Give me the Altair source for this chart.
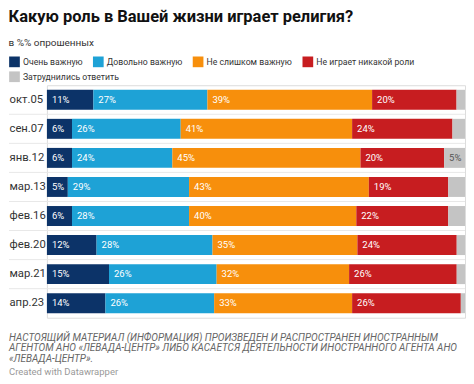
import altair as alt
import pandas as pd

dates = ["окт.05", "сен.07", "янв.12", "мар.13", "фев.16", "фев.20", "мар.21", "апр.23"]
categories = ["Очень важную", "Довольно важную", "Не слишком важную", "Не играет никакой роли", "Затруднились ответить"]
very = [11, 6, 6, 5, 6, 12, 15, 14]
fairly = [27, 26, 24, 29, 28, 28, 26, 26]
not_very = [39, 41, 45, 43, 40, 35, 32, 33]
none_ = [20, 24, 20, 19, 22, 24, 26, 26]
hard = [2, 3, 5, 4, 4, 2, 2, 1]
colors = ["#0c3368", "#1ea2d6", "#f78f0c", "#c71d20", "#c4c4c4"]

footer_lines = [
    "НАСТОЯЩИЙ МАТЕРИАЛ (ИНФОРМАЦИЯ) ПРОИЗВЕДЕН И РАСПРОСТРАНЕН ИНОСТРАННЫМ",
    "АГЕНТОМ АНО «ЛЕВАДА-ЦЕНТР» ЛИБО КАСАЕТСЯ ДЕЯТЕЛЬНОСТИ ИНОСТРАННОГО АГЕНТА АНО",
    "«ЛЕВАДА-ЦЕНТР».",
]

rows = []
for series, cat in zip([very, fairly, not_very, none_, hard], categories):
    for d, v in zip(dates, series):
        rows.append({"date": d, "cat": cat, "value": v, "order": categories.index(cat)})
df = pd.DataFrame(rows)

W, H = 419, 233
FONT = "Roboto"

base = alt.Chart(df).transform_stack(
    stack="value", groupby=["date"], as_=["v0", "v1"], offset="normalize",
    sort=[alt.SortField("order", order="ascending")],
)

yenc = alt.Y("date:N", sort=dates, title=None,
             scale=alt.Scale(paddingInner=0, paddingOuter=0),
             axis=alt.Axis(labelAlign="left", labelPadding=38, ticks=False, domain=False,
                           labelFont=FONT, labelFontSize=11.3, labelColor="#333"))
xenc = alt.X("v0:Q", axis=None, scale=alt.Scale(domain=[0, 1], nice=False, zero=True))


def legend(y):
    return alt.Legend(orient="none", legendX=-38, legendY=y, title=None,
                      direction="horizontal",
                      symbolType="square", symbolSize=115, symbolStrokeWidth=0,
                      symbolOpacity=1,
                      labelFont=FONT, labelFontSize=8.7, labelColor="#333",
                      labelOffset=3, columnPadding=10)


bars_main = base.transform_filter("datum.order < 4").mark_bar(size=20).encode(
    x=xenc, x2="v1:Q", y=yenc,
    color=alt.Color("cat:N", sort=categories[:4],
                    scale=alt.Scale(domain=categories[:4], range=colors[:4]),
                    legend=legend(-29)),
)

bars_hard = base.transform_filter("datum.order == 4").mark_bar(size=20).encode(
    x=xenc, x2="v1:Q", y=yenc,
    color=alt.Color("cat:N",
                    scale=alt.Scale(domain=categories[4:], range=colors[4:]),
                    legend=legend(-14)),
)

labels = base.transform_filter("datum.value >= 5").transform_calculate(
    lab="datum.value + '%'"
).mark_text(align="left", baseline="middle", dx=5, font=FONT, fontSize=9.5).encode(
    x=alt.X("v0:Q"),
    y=alt.Y("date:N", sort=dates),
    text="lab:N",
    color=alt.condition("datum.cat == 'Затруднились ответить'", alt.value("#555"), alt.value("#ffffff")),
)

seps = alt.Chart(pd.DataFrame({"date": dates[1:]})).mark_rule(color="#e8e8e8", strokeWidth=1).encode(
    y=alt.Y("date:N", sort=dates, bandPosition=0),
    x=alt.value(-38),
    x2=alt.value(W),
)

footer = alt.Chart(alt.Data(values=[{}])).mark_text(
    text=footer_lines, align="left", baseline="top", font=FONT, fontSize=10,
    fontStyle="italic", color="#666", lineHeight=10.5,
).encode(x=alt.value(-38), y=alt.value(H + 15))

credit = alt.Chart(alt.Data(values=[{}])).mark_text(
    text="Created with Datawrapper", align="left", baseline="top", font=FONT, fontSize=9.5,
    color="#999",
).encode(x=alt.value(-38), y=alt.value(H + 49))

chart = alt.layer(seps, bars_main, bars_hard, labels, footer, credit).resolve_scale(
    color="independent"
).properties(
    width=W, height=H, padding=0,
    title=alt.TitleParams(
        text="Какую роль в Вашей жизни играет религия?",
        subtitle="в %% опрошенных",
        anchor="start", frame="bounds", font=FONT, fontSize=16.5, fontWeight="bold",
        color="#111", subtitleFont=FONT, subtitleFontSize=10, subtitleColor="#333",
        subtitlePadding=13, offset=8,
    ),
).configure_view(stroke=None).configure(background="white")

chart.save("out.html", embed_options={"renderer": "svg", "actions": False})
